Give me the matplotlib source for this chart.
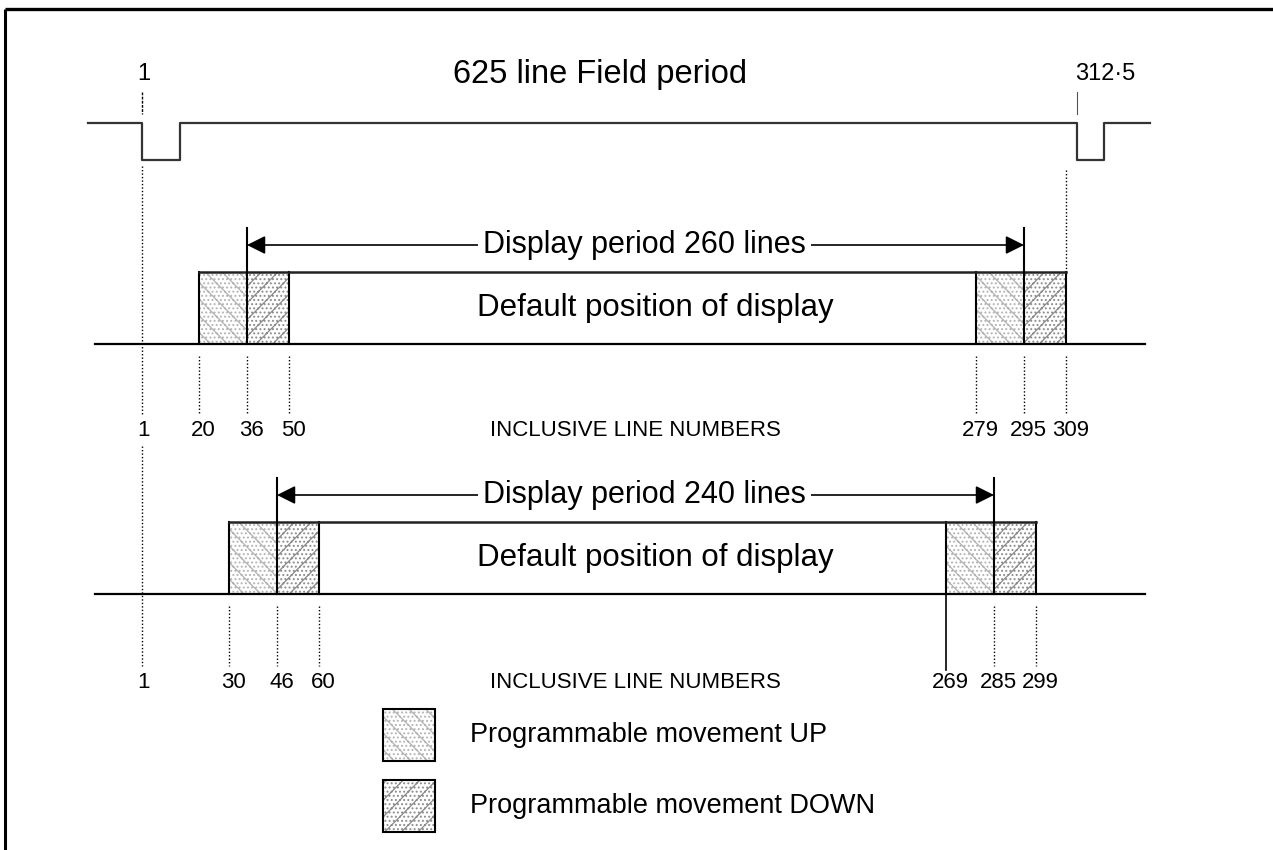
import matplotlib
matplotlib.use("Agg")
import matplotlib.pyplot as plt
from matplotlib.patches import Rectangle

plt.rcParams['font.family'] = ['Liberation Sans', 'DejaVu Sans']
plt.rcParams['hatch.linewidth'] = 0.9

# ---- data (line numbers) ----
field_title = "625 line Field period"
field_start = 1
field_end = 312.5
sync_widths = [12.5, 9]          # visual width of field-sync pulses, in lines
wave_extent = [-17, 337]         # waveform drawn from / to (lines)

top_lines = [20, 36, 50, 279, 295, 309]
bottom_lines = [30, 46, 60, 269, 285, 299]
display_lengths = [260, 240]
top_labels = ["1", "20", "36", "50", "279", "295", "309"]
bottom_labels = ["1", "30", "46", "60", "269", "285", "299"]
axis_caption = "INCLUSIVE LINE NUMBERS"
box_caption = "Default position of display"
legend_labels = ["Programmable movement UP", "Programmable movement DOWN"]

# ---- figure ----
W, H = 1273, 850
fig = plt.figure(figsize=(W / 100, H / 100), dpi=100)
ax = fig.add_axes([0, 0, 1, 1])
# x in line numbers (px = 139 + 3*n), y in pixel rows (top = 0)
PX0, PXS = 139.0, 3.0
def L(px):
    return (px - PX0) / PXS
ax.set_xlim(L(0), L(W))
ax.set_ylim(H, 0)
ax.axis('off')

K = 'black'
DOT = (0, (1, 1.5))
# frame (top and left)
ax.plot([L(5), L(W)], [9, 9], color=K, lw=2.4, solid_capstyle='butt')
ax.plot([L(5), L(5)], [9, H], color=K, lw=2.2, solid_capstyle='butt')

# title and pulse labels
ax.text(L(600), 74, field_title, ha='center', va='center', fontsize=23.5)
ax.text(field_start - 1.5, 74, "1", ha='left', va='center', fontsize=17)
ax.text(field_end - 0.5, 74, "312·5", ha='left', va='center', fontsize=17)
ax.plot([field_start, field_start], [92, 114], color=K, lw=1.0, ls=(0, (2, 1)))
ax.plot([field_end, field_end], [92, 114], color='#555555', lw=0.8)

# waveform
yh, yl = 123, 160
wx = [wave_extent[0], field_start, field_start, field_start + sync_widths[0],
      field_start + sync_widths[0], field_end, field_end,
      field_end + sync_widths[1], field_end + sync_widths[1], wave_extent[1]]
wy = [yh, yh, yl, yl, yh, yh, yl, yl, yh, yh]
ax.plot(wx, wy, color='#333333', lw=1.6)

up_style = dict(hatch='\\\\....', facecolor='white', edgecolor='#b4b4b4', lw=0)
down_style = dict(hatch='//....', facecolor='white', edgecolor='#8c8c8c', lw=0)


def diagram(lines, length, labels, y_arrow, y_top, y_base, y_lab, solid_left_inner=False):
    a0, d0, b0, a1, d1, b1 = lines
    for x0, x1, st in [(a0, d0, up_style), (d0, b0, down_style),
                       (a1, d1, up_style), (d1, b1, down_style)]:
        ax.add_patch(Rectangle((x0, y_top), x1 - x0, y_base - y_top, zorder=1, **st))
    for x in [a0, b0, a1, b1]:
        ax.plot([x, x], [y_top, y_base], color=K, lw=1.5, zorder=3)
    ax.plot([a0, b1], [y_top, y_top], color='#222222', lw=1.8, zorder=3)
    ax.plot([L(95), L(1145)], [y_base, y_base], color=K, lw=1.6, zorder=3)
    for x in [d0, d1]:
        ax.plot([x, x], [y_arrow - 17, y_base], color=K, lw=1.5, zorder=3)
    ax.annotate('', xy=(d0, y_arrow), xytext=(d1, y_arrow),
                arrowprops=dict(arrowstyle='<|-|>', color=K, lw=1.2,
                                mutation_scale=28, shrinkA=0, shrinkB=0))
    ax.text((d0 + d1) / 2 + 3, y_arrow, f"Display period {length} lines",
            ha='center', va='center', fontsize=22,
            bbox=dict(facecolor='white', edgecolor='none', pad=4), zorder=4)
    ax.text(L(655), (y_top + y_base) / 2, box_caption, ha='center',
            va='center', fontsize=22.5, zorder=4)
    for x in lines:
        if solid_left_inner and x == a1:
            ax.plot([x, x], [y_base, y_lab - 12], color=K, lw=1.2)
        else:
            ax.plot([x, x], [y_base + 12, y_lab - 16], color=K, lw=1.0, ls=DOT)
    ax.text(field_start - 1.5, y_lab, labels[0], ha='left', va='center', fontsize=16)
    for x, s in zip(lines, labels[1:]):
        ax.text(x + 1.5, y_lab, s, ha='center', va='center', fontsize=16)
    ax.text(L(635), y_lab, axis_caption, ha='center', va='center', fontsize=16)


diagram(top_lines, display_lengths[0], top_labels, 245, 272, 344, 430)
diagram(bottom_lines, display_lengths[1], bottom_labels, 495, 522, 594, 682,
        solid_left_inner=True)

# dotted guides from the sync pulses
ax.plot([field_start, field_start], [166, 414], color=K, lw=1.0, ls=DOT)
ax.plot([field_start, field_start], [446, 666], color=K, lw=1.0, ls=DOT)
ax.plot([top_lines[5], top_lines[5]], [170, 270], color=K, lw=1.0, ls=DOT)

# legend
for i, (lab, st) in enumerate(zip(legend_labels, [up_style, down_style])):
    y0 = 709 + i * 71
    ax.add_patch(Rectangle((L(383), y0), L(435) - L(383), 52, zorder=1, **st))
    ax.add_patch(Rectangle((L(383), y0), L(435) - L(383), 52, facecolor='none',
                           edgecolor=K, lw=1.5, zorder=2))
    ax.text(L(470), y0 + 26, lab, ha='left', va='center', fontsize=19.5)

fig.savefig("out.png", dpi=100)
